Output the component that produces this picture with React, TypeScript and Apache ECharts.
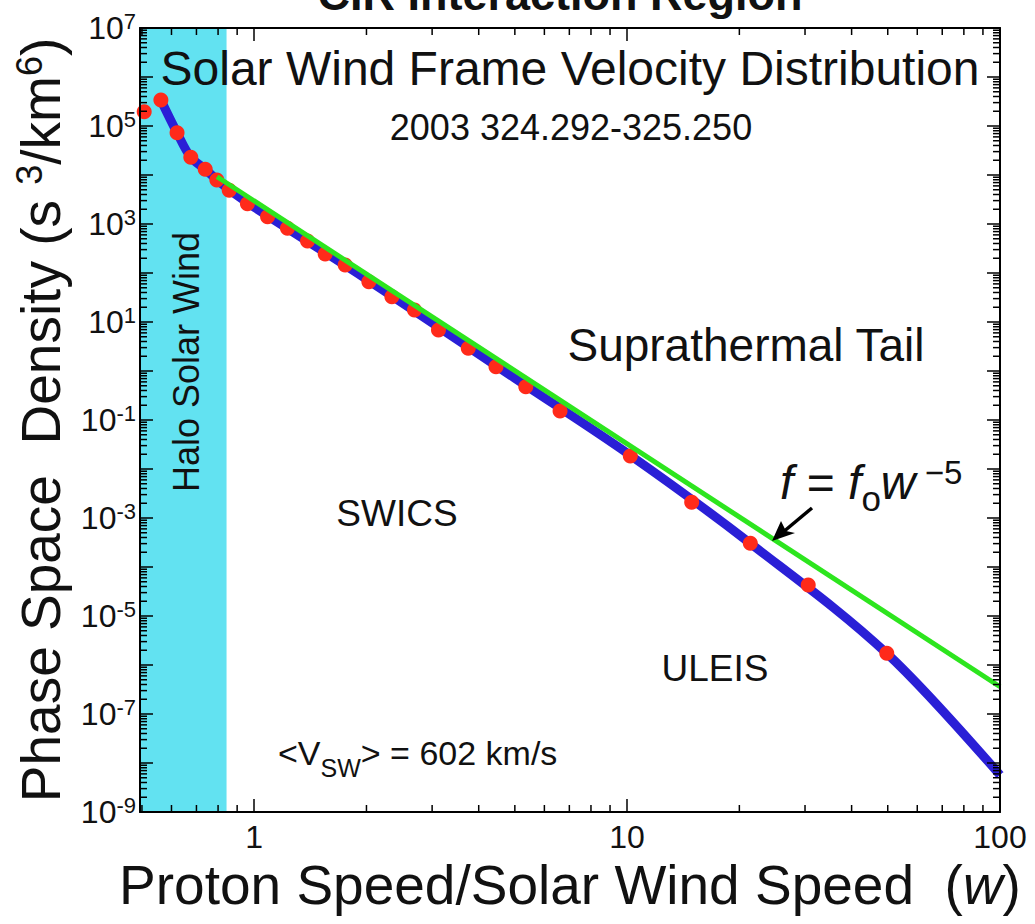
import React, { useEffect, useRef } from 'react';
import * as echarts from 'echarts';

// ---- data ----
const dotW = [0.507, 0.562, 0.621, 0.676, 0.739, 0.794, 0.857, 0.959, 1.086, 1.228, 1.39, 1.55, 1.754, 2.03, 2.34, 2.69, 3.12, 3.75, 4.45, 5.35, 6.61, 10.2, 14.9, 21.4, 30.6, 49.7];
const dotF = [1.96e5, 3.4e5, 7.3e4, 2.3e4, 1.31e4, 7.9e3, 4.9e3, 2.6e3, 1.41e3, 817, 450, 244, 146, 66, 32.8, 17.6, 6.9, 2.9, 1.22, 0.479, 0.153, 0.0184, 2.09e-3, 3.04e-4, 4.3e-5, 1.73e-6];

const fitW = [0.562, 0.621, 0.676, 0.739, 0.8, 0.88, 1.0, 2.0, 5.0, 10.2, 21.4, 49.7, 100];
const fitF = [3.4e5, 7.3e4, 2.3e4, 1.31e4, 7.6e3, 4.3e3, 2.2e3, 75, 0.71, 0.019, 3.04e-4, 1.73e-6, 5.7e-9];

const powerLawW = [0.795, 100];
const powerLawF = [9200, 3.6e-7];

const haloBand = [0.494, 0.843];
const xRange = [0.494, 100];
const yRange = [1e-9, 1e7];
const xTickLabels = ['1', '10', '100'];

const xMinorTicks = [0.5, 0.6, 0.7, 0.8, 0.9, 2, 3, 4, 5, 6, 7, 8, 9, 20, 30, 40, 50, 60, 70, 80, 90];
const yMinorMultipliers = [2, 3, 4, 5, 6, 7, 8, 9];
const yDecades = [-9, -8, -7, -6, -5, -4, -3, -2, -1, 0, 1, 2, 3, 4, 5, 6];

const FONT = '"Liberation Sans", Arial, Helvetica, sans-serif';

export default function App() {
  const ref = useRef<HTMLDivElement>(null);

  useEffect(() => {
    if (!ref.current) return;
    const chart = echarts.init(ref.current, undefined, { renderer: 'svg' });

    const dots = dotW.map((w, i) => [w, dotF[i]]);
    const fit = fitW.map((w, i) => [w, fitF[i]]);
    const powerLaw = powerLawW.map((w, i) => [w, powerLawF[i]]);
    const xMinor = xMinorTicks.map((v) => [v, 1]);
    const yMinor: number[][] = [];
    yDecades.forEach((d) => yMinorMultipliers.forEach((m) => yMinor.push([1, m * Math.pow(10, d)])));

    const axisLineStyle = { color: '#000', width: 2 };
    const tickStyle = { color: '#000', width: 1.5 };

    const xLabelFmt = (v: number) => {
      const e = Math.log10(v);
      if (Math.abs(e - Math.round(e)) > 1e-6) return '';
      const idx = Math.round(e);
      return xTickLabels[idx] ?? '';
    };
    const yLabelFmt = (v: number) => {
      const e = Math.round(Math.log10(v));
      if (Math.abs(e) % 2 !== 1) return '';
      return '10{sup|' + e + '}';
    };

    const minorRender = (axis: 'x' | 'y') => (params: any, api: any) => {
      const cs = params.coordSys;
      const L = 7;
      const st = { stroke: '#000', lineWidth: 1.5 };
      if (axis === 'x') {
        const px = api.coord([api.value(0), 1])[0];
        const b = cs.y + cs.height;
        return {
          type: 'group',
          children: [
            { type: 'line', shape: { x1: px, y1: b, x2: px, y2: b - L }, style: st },
            { type: 'line', shape: { x1: px, y1: cs.y, x2: px, y2: cs.y + L }, style: st },
          ],
        };
      }
      const py = api.coord([1, api.value(1)])[1];
      const r = cs.x + cs.width;
      return {
        type: 'group',
        children: [
          { type: 'line', shape: { x1: cs.x, y1: py, x2: cs.x + L, y2: py }, style: st },
          { type: 'line', shape: { x1: r, y1: py, x2: r - L, y2: py }, style: st },
        ],
      };
    };

    const option: any = {
      animation: false,
      backgroundColor: '#fff',
      textStyle: { fontFamily: FONT },
      grid: { left: 140, right: 35, top: 28, bottom: 112, outerBoundsMode: 'none' },
      xAxis: [
        {
          type: 'log',
          logBase: 10,
          min: xRange[0],
          max: xRange[1],
          position: 'bottom',
          z: 10,
          splitLine: { show: false },
          axisLine: { lineStyle: axisLineStyle },
          axisTick: { inside: true, length: 13, lineStyle: tickStyle },
          axisLabel: {
            formatter: xLabelFmt,
            showMinLabel: false,
            color: '#111',
            fontSize: 32,
            fontFamily: FONT,
            margin: 9,
          },
          name: 'Proton Speed/Solar Wind Speed \u00a0({it|w})',
          nameLocation: 'middle',
          nameGap: 45,
          nameTextStyle: {
            fontSize: 55,
            color: '#111',
            fontFamily: FONT,
            rich: { it: { fontSize: 55, fontStyle: 'italic', color: '#111', fontFamily: FONT } },
          },
        },
        {
          type: 'log',
          logBase: 10,
          min: xRange[0],
          max: xRange[1],
          position: 'top',
          z: 10,
          splitLine: { show: false },
          axisLine: { lineStyle: axisLineStyle },
          axisTick: { inside: true, length: 13, lineStyle: tickStyle },
          axisLabel: { show: false },
        },
      ],
      yAxis: [
        {
          type: 'log',
          logBase: 10,
          min: yRange[0],
          max: yRange[1],
          interval: 1,
          position: 'left',
          z: 10,
          splitLine: { show: false },
          axisLine: { lineStyle: axisLineStyle },
          axisTick: { inside: true, length: 13, lineStyle: tickStyle },
          axisLabel: {
            formatter: yLabelFmt,
            color: '#111',
            fontSize: 32,
            fontFamily: FONT,
            margin: 4,
            lineHeight: 36,
            rich: {
              sup: { fontSize: 22, lineHeight: 22, verticalAlign: 'top', color: '#111', fontFamily: FONT },
            },
          },
          name: 'Phase Space \u00a0Density (s {sup|3}/km{sup|6})',
          nameLocation: 'middle',
          nameRotate: 90,
          nameGap: 64,
          nameTextStyle: {
            fontSize: 55,
            color: '#111',
            fontFamily: FONT,
            lineHeight: 58,
            rich: { sup: { fontSize: 36, lineHeight: 36, verticalAlign: 'top', color: '#111', fontFamily: FONT } },
          },
        },
        {
          type: 'log',
          logBase: 10,
          min: yRange[0],
          max: yRange[1],
          interval: 1,
          position: 'right',
          z: 10,
          splitLine: { show: false },
          axisLine: { lineStyle: axisLineStyle },
          axisTick: { inside: true, length: 13, lineStyle: tickStyle },
          axisLabel: { show: false },
        },
      ],
      series: [
        {
          name: 'halo',
          type: 'line',
          data: [],
          z: 1,
          silent: true,
          markArea: {
            silent: true,
            itemStyle: { color: '#62e2f1', opacity: 1 },
            data: [[{ xAxis: haloBand[0] }, { xAxis: haloBand[1] }]],
          },
        },
        {
          name: 'fit',
          type: 'line',
          data: fit,
          smooth: 0.35,
          showSymbol: false,
          z: 2,
          lineStyle: { color: '#2a1fd6', width: 9 },
        },
        {
          name: 'data',
          type: 'scatter',
          data: dots,
          symbol: 'circle',
          symbolSize: 15,
          z: 3,
          itemStyle: { color: '#ff2a1a', opacity: 1 },
        },
        {
          name: 'power law',
          type: 'line',
          data: powerLaw,
          showSymbol: false,
          z: 4,
          lineStyle: { color: '#2de51e', width: 5 },
        },
        {
          name: 'xMinor',
          type: 'custom',
          data: xMinor,
          z: 11,
          silent: true,
          renderItem: minorRender('x'),
        },
        {
          name: 'yMinor',
          type: 'custom',
          data: yMinor,
          z: 11,
          silent: true,
          renderItem: minorRender('y'),
        },
      ],
      graphic: [
        {
          type: 'text',
          x: 560,
          y: -6,
          z: 20,
          style: { text: 'CIR Interaction Region', font: `bold 45px ${FONT}`, fill: '#111', align: 'center', verticalAlign: 'middle' },
        },
        {
          type: 'text',
          x: 570,
          y: 68,
          z: 20,
          style: { text: 'Solar Wind Frame Velocity Distribution', font: `48px ${FONT}`, fill: '#111', align: 'center', verticalAlign: 'middle' },
        },
        {
          type: 'text',
          x: 571,
          y: 127,
          z: 20,
          style: { text: '2003 324.292-325.250', font: `36px ${FONT}`, fill: '#111', align: 'center', verticalAlign: 'middle' },
        },
        {
          type: 'text',
          x: 186,
          y: 362,
          rotation: Math.PI / 2,
          z: 20,
          style: { text: 'Halo Solar Wind', font: `36px ${FONT}`, fill: '#111', align: 'center', verticalAlign: 'middle' },
        },
        {
          type: 'text',
          x: 746,
          y: 345,
          z: 20,
          style: { text: 'Suprathermal Tail', font: `46px ${FONT}`, fill: '#111', align: 'center', verticalAlign: 'middle' },
        },
        {
          type: 'text',
          x: 397,
          y: 513,
          z: 20,
          style: { text: 'SWICS', font: `37px ${FONT}`, fill: '#111', align: 'center', verticalAlign: 'middle' },
        },
        {
          type: 'text',
          x: 715,
          y: 668,
          z: 20,
          style: { text: 'ULEIS', font: `37px ${FONT}`, fill: '#111', align: 'center', verticalAlign: 'middle' },
        },
        {
          type: 'text',
          x: 278,
          y: 753,
          z: 20,
          style: {
            text: '<V{sub|SW}> = 602 km/s',
            font: `34px ${FONT}`,
            fill: '#111',
            align: 'left',
            verticalAlign: 'middle',
            lineHeight: 38,
            rich: { sub: { fontSize: 25, lineHeight: 25, verticalAlign: 'bottom', fill: '#111', fontFamily: FONT, padding: [0, 0, -8, 0] } },
          },
        },
        {
          type: 'text',
          x: 780,
          y: 482,
          z: 20,
          style: {
            text: '{i|f} = {i|f}{sub|o}{i|w}{sup| \u22125}',
            font: `48px ${FONT}`,
            fill: '#111',
            align: 'left',
            verticalAlign: 'middle',
            lineHeight: 52,
            rich: {
              i: { fontStyle: 'italic', fontSize: 48, lineHeight: 52, fill: '#111', fontFamily: FONT },
              sub: { fontSize: 35, lineHeight: 35, verticalAlign: 'bottom', fill: '#111', fontFamily: FONT, padding: [0, 0, -8, 0] },
              sup: { fontSize: 33, lineHeight: 33, verticalAlign: 'top', fill: '#111', fontFamily: FONT },
            },
          },
        },
        {
          type: 'line',
          z: 20,
          shape: { x1: 812, y1: 508, x2: 782, y2: 533 },
          style: { stroke: '#000', lineWidth: 3.5 },
        },
        {
          type: 'polygon',
          z: 20,
          shape: { points: [[772, 541], [781, 521], [786, 531], [795, 533]] },
          style: { fill: '#000' },
        },
      ],
    };

    chart.setOption(option);
    return () => chart.dispose();
  }, []);

  return (
    <div
      ref={ref}
      style={{ position: 'fixed', left: 0, top: 0, width: 1035, height: 924, background: '#fff' }}
    />
  );
}
